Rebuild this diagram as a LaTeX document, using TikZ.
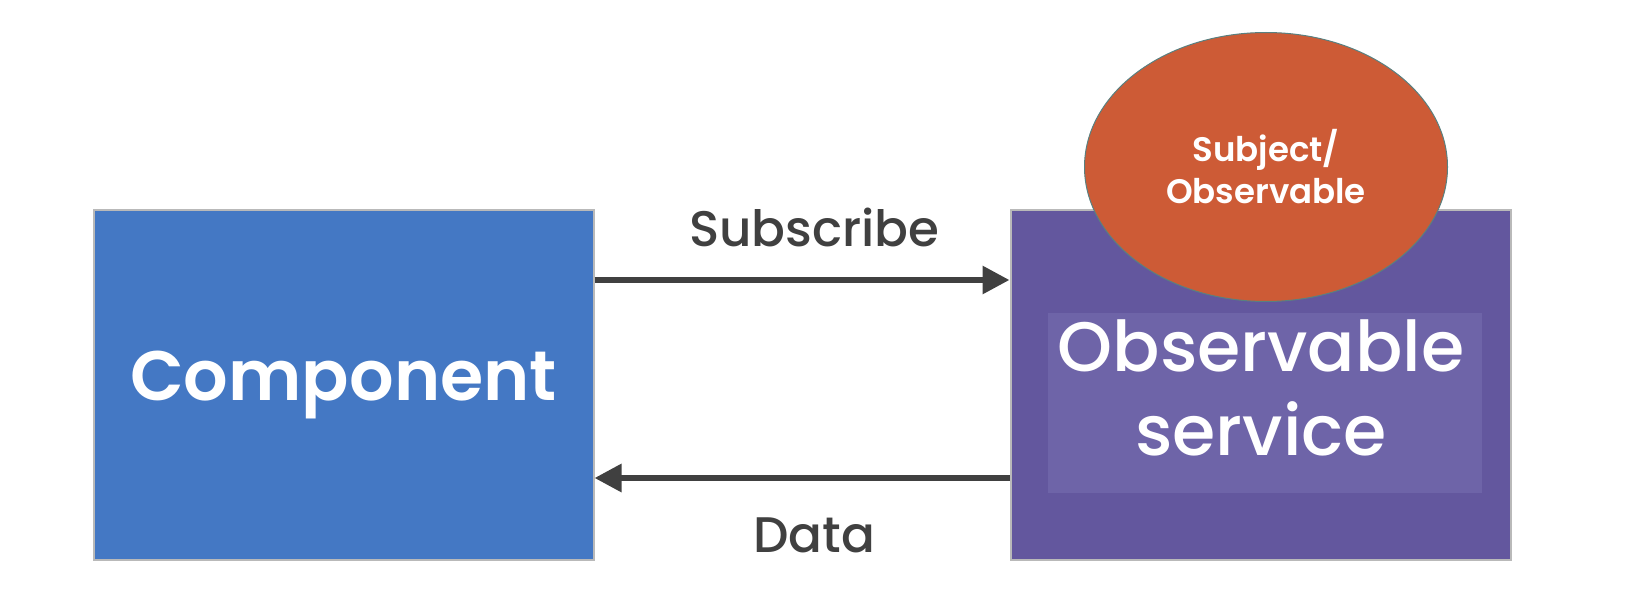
\documentclass[tikz,border=0pt]{standalone}
\usepackage{fontspec}
\setmainfont{Poppins}
\newfontfamily\medio{Poppins Medium}
\newfontfamily\semi{Poppins SemiBold}
\usetikzlibrary{shapes.geometric,arrows.meta}
\definecolor{azul}{HTML}{4478C4}
\definecolor{morado}{HTML}{63579E}
\definecolor{moradoclaro}{HTML}{6E64A8}
\definecolor{naranja}{HTML}{CD5B36}
\definecolor{gris}{HTML}{404040}

\begin{document}
\begin{tikzpicture}[x=1pt, y=-1pt,
    caja/.style = {draw=gray!55, line width=2pt, minimum width=500pt, minimum height=350pt, inner sep=0pt, text=white},
    flecha/.style = {draw=gris, line width=6pt, -{Triangle[length=27pt, width=27pt]}},
    rotulo/.style = {text=gris, inner sep=0pt, font=\medio\fontsize{50}{60}\selectfont}]
            \useasboundingbox (0,0) rectangle (1628,594);
            % Cajas
            \node[caja, fill=azul, font=\semi\fontsize{70}{84}\selectfont] (comp) at (343.5,384.5) {Component};
            \node[caja, fill=morado] (serv) at (1260.5,384.5) {};
            \node[fill=moradoclaro, minimum width=434pt, minimum height=180pt, inner sep=0pt] (fondo) at (1265,403) {};
            \node[text=white, align=center, font=\medio\fontsize{70}{84}\selectfont] (txtserv) at (1261,388) {Observable\\service};
            % Elipse
            \node[ellipse, fill=naranja, draw=gray!70!teal, line width=1pt, minimum width=363pt, minimum height=269pt,
                  text=white, align=center, font=\semi\fontsize{34}{42}\selectfont] (subj) at (1266,167) {Subject/\\Observable};
            % Flechas
            \draw[flecha] ([yshift=104.5pt]comp.east) -- node[rotulo, pos=0.53, anchor=south, yshift=30pt] (sub) {Subscribe} ([yshift=104.5pt]serv.west);
            \draw[flecha] ([yshift=-93.5pt]serv.west) -- node[rotulo, pos=0.47, anchor=north, yshift=-37pt] (dat) {Data} ([yshift=-93.5pt]comp.east);
       \end{tikzpicture}
\end{document}
